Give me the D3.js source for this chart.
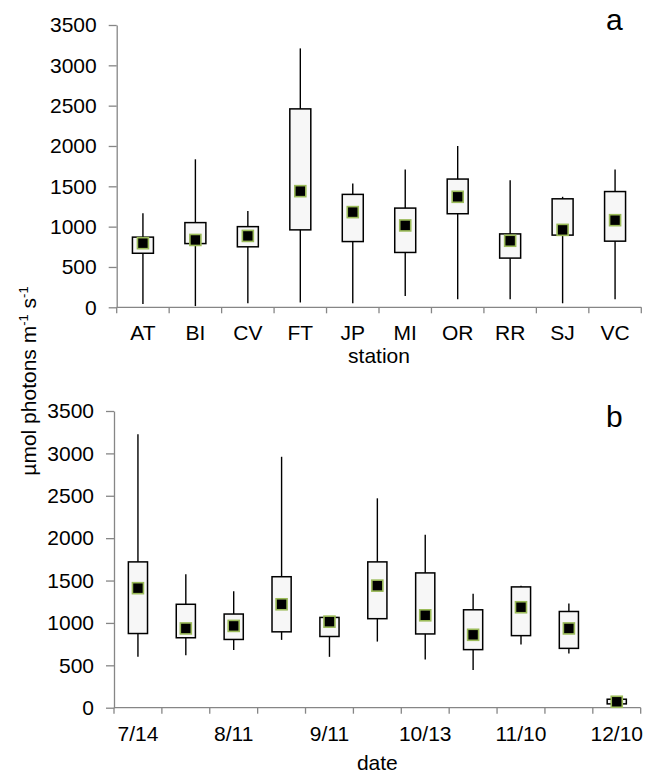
<!DOCTYPE html>
<html>
<head>
<meta charset="utf-8">
<script src="https://cdn.jsdelivr.net/npm/d3@7"></script>
<style>
  body { margin: 0; background: #fff; }
  text { font-family: "Liberation Sans", Arial, sans-serif; fill: #000; }
</style>
</head>
<body>
<div id="chart"></div>
<script>
/**
 * constant variables
 */
const WIDTH = 656;
const HEIGHT = 775;
const AXIS_COLOR = "#868686";
const MEAN_STROKE = "#9bbb59";
const BOX_FILL = "#f7f7f7";
const FONT = "'Liberation Sans', Arial, sans-serif";
const Y_TICKS = [0, 500, 1000, 1500, 2000, 2500, 3000, 3500];

// panel a: by station
const stations = ["AT", "BI", "CV", "FT", "JP", "MI", "OR", "RR", "SJ", "VC"];
const stationMin = [40, 15, 50, 60, 50, 140, 100, 100, 50, 100];
const stationQ1 = [670, 790, 750, 960, 815, 680, 1160, 610, 895, 820];
const stationQ3 = [870, 1050, 1000, 2460, 1400, 1230, 1590, 910, 1345, 1435];
const stationMax = [1165, 1835, 1195, 3210, 1535, 1710, 2000, 1575, 1370, 1710];
const stationMean = [795, 835, 885, 1440, 1180, 1015, 1370, 825, 960, 1080];

// panel b: by date (only every other date is labelled)
const dateLabels = ["7/14", "", "8/11", "", "9/11", "", "10/13", "", "11/10", "", "12/10"];
const dateMin = [600, 620, 680, 800, 600, 780, 570, 445, 745, 640, 30];
const dateQ1 = [875, 825, 805, 895, 840, 1050, 870, 685, 850, 700, 45];
const dateQ3 = [1720, 1220, 1105, 1545, 1065, 1720, 1590, 1155, 1425, 1135, 100];
const dateMax = [3225, 1575, 1375, 2960, 1075, 2470, 2040, 1345, 1440, 1230, 110];
const dateMean = [1410, 935, 965, 1220, 1015, 1440, 1090, 860, 1185, 935, 70];

const svg = d3.select("#chart").append("svg")
                               .attr("width", WIDTH)
                               .attr("height", HEIGHT);

/**
 * draws one box panel
 */
function drawPanel(p)
{
    const n = p.labels.length;

    const x = d3.scaleBand()
                .domain(d3.range(n))
                .range([p.left, p.right])
                .padding(0);

    const y = d3.scaleLinear()
                .domain([0, 3500])
                .range([p.bottom, p.top]);

    const g = svg.append("g");

    // y axis
    const yAxis = g.append("g")
                   .attr("transform", `translate(${p.left}, 0)`)
                   .call(d3.axisLeft(y)
                           .tickValues(Y_TICKS)
                           .tickFormat(d3.format("d"))
                           .tickSize(8)
                           .tickSizeOuter(0)
                           .tickPadding(12));
    yAxis.selectAll("path, line").attr("stroke", AXIS_COLOR).attr("stroke-width", 1.3);
    yAxis.selectAll("text")
         .attr("font-size", "21px")
         .attr("fill", "#000")
         .style("font-family", FONT);

    // x axis line + boundary ticks
    g.append("line")
     .attr("x1", p.left).attr("x2", p.right)
     .attr("y1", p.bottom).attr("y2", p.bottom)
     .attr("stroke", AXIS_COLOR)
     .attr("stroke-width", 1.3);

    g.selectAll(".xtick")
     .data(d3.range(n + 1))
     .enter()
     .append("line")
     .attr("x1", d => p.left + d * x.step())
     .attr("x2", d => p.left + d * x.step())
     .attr("y1", p.bottom)
     .attr("y2", p.bottom + 6)
     .attr("stroke", AXIS_COLOR)
     .attr("stroke-width", 1.3);

    g.selectAll(".xlabel")
     .data(p.labels)
     .enter()
     .append("text")
     .attr("x", (d, i) => x(i) + x.bandwidth() / 2)
     .attr("y", p.bottom + 33)
     .attr("text-anchor", "middle")
     .attr("font-size", "21px")
     .text(d => d);

    // whiskers
    const bw = x.bandwidth() * 0.4;
    g.selectAll(".whisker")
     .data(d3.range(n))
     .enter()
     .append("line")
     .attr("x1", i => x(i) + x.bandwidth() / 2)
     .attr("x2", i => x(i) + x.bandwidth() / 2)
     .attr("y1", i => y(p.min[i]))
     .attr("y2", i => y(p.max[i]))
     .attr("stroke", "#000")
     .attr("stroke-width", 1.4);

    // boxes
    g.selectAll(".box")
     .data(d3.range(n))
     .enter()
     .append("rect")
     .attr("x", i => x(i) + x.bandwidth() / 2 - bw / 2)
     .attr("y", i => y(p.q3[i]))
     .attr("width", bw)
     .attr("height", i => y(p.q1[i]) - y(p.q3[i]))
     .attr("fill", BOX_FILL)
     .attr("stroke", "#000")
     .attr("stroke-width", 1.5);

    // means
    const ms = 11;
    g.selectAll(".mean")
     .data(d3.range(n))
     .enter()
     .append("rect")
     .attr("x", i => x(i) + x.bandwidth() / 2 - ms / 2)
     .attr("y", i => y(p.mean[i]) - ms / 2)
     .attr("width", ms)
     .attr("height", ms)
     .attr("fill", "#000")
     .attr("stroke", MEAN_STROKE)
     .attr("stroke-width", 1.6);

    // axis title
    g.append("text")
     .attr("x", (p.left + p.right) / 2)
     .attr("y", p.titleY)
     .attr("text-anchor", "middle")
     .attr("font-size", "21px")
     .text(p.title);

    // panel letter
    g.append("text")
     .attr("x", 606)
     .attr("y", p.letterY)
     .attr("font-size", "30px")
     .text(p.letter);
}

drawPanel({
    labels: stations, min: stationMin, q1: stationQ1, q3: stationQ3, max: stationMax, mean: stationMean,
    left: 116.7, right: 641.3, top: 25, bottom: 307.3,
    title: "station", titleY: 363, letter: "a", letterY: 30
});

drawPanel({
    labels: dateLabels, min: dateMin, q1: dateQ1, q3: dateQ3, max: dateMax, mean: dateMean,
    left: 114, right: 640.7, top: 411, bottom: 707.7,
    title: "date", titleY: 770, letter: "b", letterY: 427
});

// shared y axis title
const yTitle = svg.append("text")
                  .attr("transform", "translate(36, 381) rotate(-90)")
                  .attr("text-anchor", "middle")
                  .attr("font-size", "21px");
yTitle.append("tspan").text("µmol photons m");
yTitle.append("tspan").attr("font-size", "13px").attr("dy", -8).text("-1");
yTitle.append("tspan").attr("dy", 8).text(" s");
yTitle.append("tspan").attr("font-size", "13px").attr("dy", -8).text("-1");
</script>
</body>
</html>
